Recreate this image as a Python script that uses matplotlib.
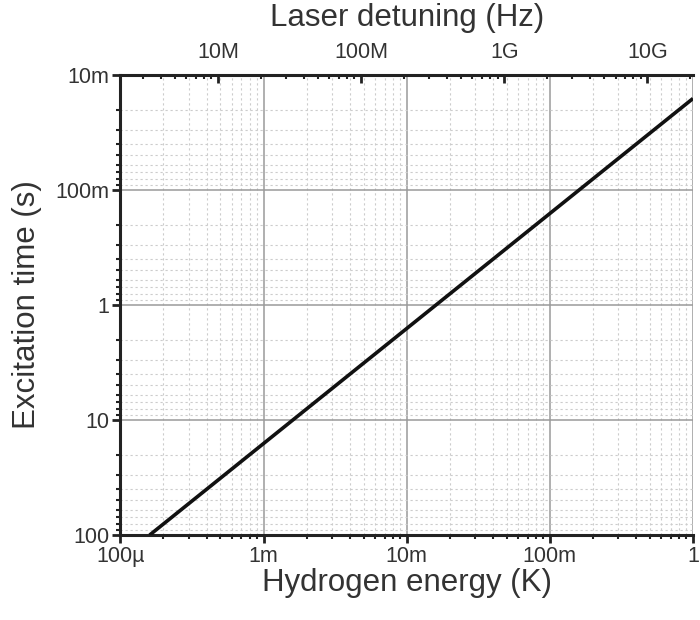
import matplotlib
matplotlib.use("Agg")
import matplotlib.pyplot as plt
from matplotlib.ticker import FixedLocator, FixedFormatter, LogLocator, NullFormatter

plt.rcParams['font.family'] = ['Liberation Sans', 'DejaVu Sans']

# Data
energy_K = [1.6e-4, 1e-3, 1e-2, 1e-1, 1.0]
excitation_time_s = [100, 16, 1.6, 0.16, 0.016]

x_ticks = [1e-4, 1e-3, 1e-2, 1e-1, 1]
x_ticklabels = ["100µ", "1m", "10m", "100m", "1"]
y_ticks = [1e-2, 1e-1, 1, 10, 100]
y_ticklabels = ["10m", "100m", "1", "10", "100"]
top_ticks = [1e7, 1e8, 1e9, 1e10]
top_ticklabels = ["10M", "100M", "1G", "10G"]
K_TO_HZ = 2.084e10  # k_B / h

text_c = '#333333'
spine_c = '#222222'

fig = plt.figure(figsize=(7, 6.2), dpi=100)
ax = fig.add_axes([0.172, 0.137, 0.818, 0.742])

ax.plot(energy_K, excitation_time_s, color='#111111', lw=2.6, solid_capstyle='butt', zorder=5)

ax.set_xscale('log')
ax.set_yscale('log')
ax.set_xlim(1e-4, 1)
ax.set_ylim(100, 1e-2)

ax.xaxis.set_major_locator(FixedLocator(x_ticks))
ax.xaxis.set_major_formatter(FixedFormatter(x_ticklabels))
ax.xaxis.set_minor_locator(LogLocator(base=10, subs=range(2, 10), numticks=20))
ax.xaxis.set_minor_formatter(NullFormatter())
ax.yaxis.set_major_locator(FixedLocator(y_ticks))
ax.yaxis.set_major_formatter(FixedFormatter(y_ticklabels))
ax.yaxis.set_minor_locator(LogLocator(base=10, subs=range(2, 10), numticks=20))
ax.yaxis.set_minor_formatter(NullFormatter())

ax.grid(which='major', color='#9a9a9a', lw=1.1, ls='-')
ax.grid(which='minor', color='#cccccc', lw=0.8, ls=(0, (2, 2.5)))
ax.set_axisbelow(True)

for s in ['left', 'bottom', 'top']:
    ax.spines[s].set_linewidth(2.2)
    ax.spines[s].set_color(spine_c)
ax.spines['right'].set_visible(False)

ax.tick_params(which='major', direction='out', length=6, width=2, color=spine_c,
               labelsize=15.5, labelcolor=text_c, pad=2)
ax.tick_params(which='minor', direction='out', length=3, width=1.5, color=spine_c)

ax.set_xlabel("Hydrogen energy (K)", fontsize=22.5, color=text_c, va='center')
ax.xaxis.set_label_coords(0.5, -0.104)
ax.set_ylabel("Excitation time (s)", fontsize=22.5, color=text_c, va='center')
ax.yaxis.set_label_coords(-0.163, 0.5)

# top axis: laser detuning
ax2 = ax.twiny()
ax2.set_xscale('log')
ax2.set_xlim(1e-4 * K_TO_HZ, 1 * K_TO_HZ)
ax2.xaxis.set_major_locator(FixedLocator(top_ticks))
ax2.xaxis.set_major_formatter(FixedFormatter(top_ticklabels))
ax2.xaxis.set_minor_locator(LogLocator(base=10, subs=range(2, 10), numticks=20))
ax2.xaxis.set_minor_formatter(NullFormatter())
for s in ax2.spines.values():
    s.set_visible(False)
ax2.tick_params(which='major', direction='in', length=6, width=2, color=spine_c,
                labelsize=15.5, labelcolor=text_c, pad=9)
ax2.tick_params(which='minor', direction='in', length=3, width=1.5, color=spine_c)
ax2.set_xlabel("Laser detuning (Hz)", fontsize=22.5, color=text_c, va='center')
ax2.xaxis.set_label_coords(0.5, 1.124)

fig.savefig("out.png", dpi=100)
